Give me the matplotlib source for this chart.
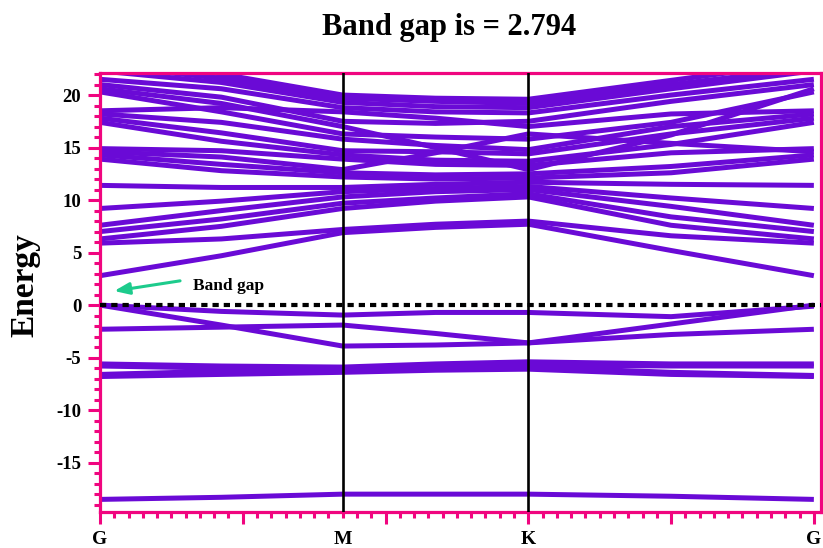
import numpy as np
import matplotlib.pyplot as plt
from matplotlib.ticker import MultipleLocator

plt.rcParams['axes.unicode_minus'] = False

# k-path sample positions (G, G-M, M, M-K, K, K-G, G)
k_points = [0.0, 0.85, 1.7, 2.35, 3.0, 4.0, 5.0]
k_labels = ["G", "M", "K", "G"]
k_label_pos = [0.0, 1.7, 3.0, 5.0]

# energies at each k point
core_band = [-18.5, -18.3, -18.0, -18.0, -18.0, -18.2, -18.5]

valence_bands = [
    [-5.6, -5.8, -5.9, -5.6, -5.4, -5.6, -5.6],
    [-5.8, -6.0, -6.1, -5.9, -5.7, -5.8, -5.8],
    [-6.6, -6.3, -6.2, -6.0, -5.9, -6.4, -6.7],
    [-6.8, -6.6, -6.4, -6.2, -6.1, -6.6, -6.8],
    [-2.3, -2.1, -1.9, -2.7, -3.6, -2.8, -2.3],
    [0.0, -1.9, -3.9, -3.8, -3.6, -1.8, 0.0],
    [0.0, -0.6, -0.95, -0.7, -0.7, -1.1, -0.1],
]

conduction_bands = [
    [2.8, 4.7, 6.9, 7.4, 7.7, 5.2, 2.8],
    [5.9, 6.3, 7.2, 7.7, 8.0, 6.6, 5.9],
    [6.3, 7.5, 9.2, 9.9, 10.3, 7.6, 6.3],
    [7.0, 8.2, 9.7, 10.2, 10.6, 8.4, 7.0],
    [7.6, 9.0, 10.3, 10.8, 11.0, 9.4, 7.6],
    [9.2, 9.9, 10.8, 11.1, 11.3, 10.2, 9.2],
    [11.4, 11.2, 11.2, 11.5, 11.7, 11.5, 11.4],
    [13.9, 12.8, 12.2, 12.0, 12.1, 12.6, 13.9],
    [14.3, 13.4, 12.6, 12.4, 12.5, 13.2, 14.3],
    [14.6, 14.1, 12.9, 14.5, 16.3, 15.4, 14.6],
    [14.9, 14.7, 13.9, 13.4, 13.3, 14.5, 14.9],
    [17.4, 15.6, 14.3, 13.8, 13.7, 15.3, 17.4],
    [17.8, 16.4, 14.7, 14.6, 14.4, 16.3, 17.8],
    [18.2, 17.4, 15.8, 15.2, 14.8, 17.0, 18.2],
    [18.5, 18.8, 18.4, 17.8, 17.0, 18.2, 18.5],
    [20.3, 18.4, 16.3, 16.0, 15.8, 17.4, 20.3],
    [20.6, 19.2, 17.0, 15.0, 12.9, 16.2, 20.6],
    [21.0, 19.8, 17.5, 17.3, 17.5, 19.4, 21.0],
    [21.5, 20.6, 18.8, 18.4, 18.3, 20.0, 21.5],
    [22.3, 21.2, 19.3, 18.9, 18.8, 20.6, 22.3],
    [22.8, 21.6, 19.7, 19.4, 19.2, 21.0, 22.6],
    [23.5, 22.0, 20.0, 19.7, 19.6, 21.4, 23.2],
]

band_gap = 2.794

band_color = "#6A0AD6"
spine_color = "#F0057F"
serif = ["Liberation Serif", "DejaVu Serif"]

fig = plt.figure(figsize=(8.23, 5.48), dpi=100)
ax = fig.add_axes([100 / 823, 1 - 512 / 548, 721 / 823, 439 / 548])

for band in [core_band] + valence_bands + conduction_bands:
    ax.plot(k_points, band, color=band_color, lw=3.6, solid_capstyle="butt", zorder=2)

# high symmetry lines and Fermi level
for x in k_label_pos[1:3]:
    ax.axvline(x, color="black", lw=1.9, zorder=3)
ax.axhline(0, color="black", lw=3, dashes=(1.5, 1.2), zorder=4)

ax.set_xlim(0, 5.05)
ax.set_ylim(-19.7, 22.1)

ax.xaxis.set_major_locator(MultipleLocator(1))
ax.xaxis.set_minor_locator(MultipleLocator(0.1))
ax.yaxis.set_major_locator(MultipleLocator(5))
ax.yaxis.set_minor_locator(MultipleLocator(1))
ax.tick_params(which="both", direction="out", color=spine_color, width=2.2,
               top=False, right=False)
ax.tick_params(which="major", length=8.5)
ax.tick_params(which="minor", length=4)
ax.tick_params(axis="x", labelbottom=False)
ax.tick_params(axis="y", pad=5)
for lab in ax.get_yticklabels():
    lab.set_fontfamily(serif)
    lab.set_fontweight("bold")
    lab.set_fontsize(13.5)
for sp in ax.spines.values():
    sp.set_color(spine_color)
    sp.set_linewidth(2.3)

for x, lab in zip(k_label_pos, k_labels):
    ax.text(x, -0.043, lab, transform=ax.get_xaxis_transform(), ha="center", va="top",
            family=serif, fontweight="bold", fontsize=14)

ax.annotate("", xy=(0.08, 1.3), xytext=(0.58, 2.35),
            arrowprops=dict(arrowstyle="-|>,head_length=0.9,head_width=0.35",
                            color="#1DCB8C", lw=2.2))
ax.text(0.65, 1.85, "Band gap", family=serif, fontweight="bold", fontsize=12.5,
        ha="left", va="center")

fig.text(449 / 823, 1 - 28 / 548, "Band gap is = %.3f" % band_gap, family=serif,
         fontweight="bold", fontsize=22, ha="center", va="center")
fig.text(25 / 823, 1 - 285 / 548, "Energy", family=serif, fontweight="bold",
         fontsize=24, rotation=90, ha="center", va="center")

fig.savefig("out.png", dpi=100)
